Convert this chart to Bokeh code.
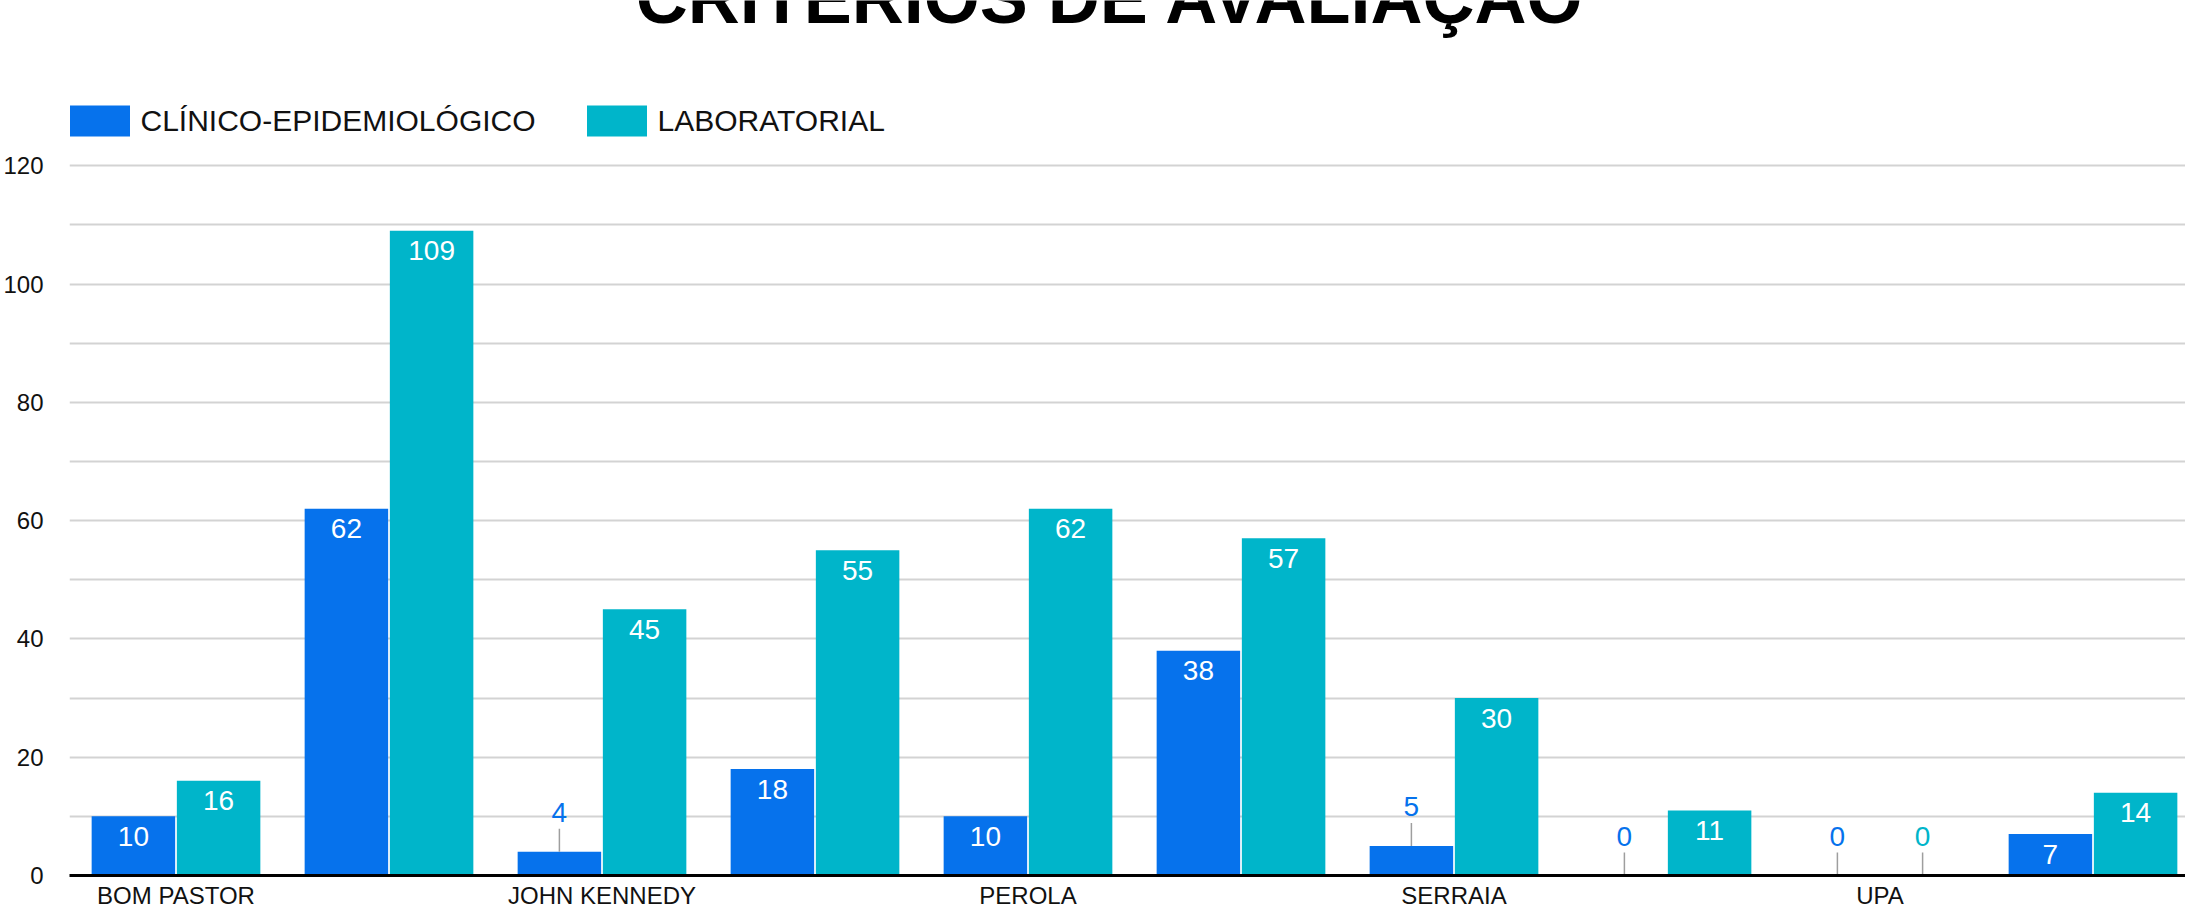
from bokeh.plotting import figure
from bokeh.models import ColumnDataSource, FixedTicker, Range1d, Legend, LegendItem, Label
from bokeh.core.properties import value
from bokeh.embed import file_html
from bokeh.resources import INLINE

# ---------------- data ----------------
title_text = "CRITÉRIOS DE AVALIAÇÃO"
series_names = ["CLÍNICO-EPIDEMIOLÓGICO", "LABORATORIAL"]
categories = ["BOM PASTOR", "", "JOHN KENNEDY", "", "PEROLA", "", "SERRAIA", "", "UPA", ""]
clinico = [10, 62, 4, 18, 10, 38, 5, 0, 0, 7]
laboratorial = [16, 109, 45, 55, 62, 57, 30, 11, 0, 14]
y_ticks = [0, 20, 40, 60, 80, 100, 120]
y_minor = [10, 30, 50, 70, 90, 110]

# ---------------- style ----------------
BLUE = "#0672EC"
TEAL = "#00B5CA"
FONT = "Liberation Sans"
W, H = 2185, 913
BORDER_LEFT, BORDER_BOTTOM = 69, 38
PX_PER_UNIT = 5.915
frame_h = H - BORDER_BOTTOM
y_end = frame_h / PX_PER_UNIT
units_per_px = 1.0 / PX_PER_UNIT
cat_px = 213.0
x_end = -0.5 + (W - BORDER_LEFT) / cat_px

p = figure(width=W, height=H, output_backend="svg", toolbar_location=None,
           x_range=Range1d(-0.5, x_end), y_range=Range1d(0, y_end),
           min_border_left=BORDER_LEFT, min_border_right=0, min_border_top=0,
           min_border_bottom=BORDER_BOTTOM)
p.outline_line_color = None
p.background_fill_color = "white"
p.border_fill_color = "white"

xs = list(range(len(categories)))
bar_w = 0.392
offsets = [-0.2, 0.2]
colors = [BLUE, TEAL]
series = [clinico, laboratorial]

renderers = []
for vals, off, col in zip(series, offsets, colors):
    src = ColumnDataSource(dict(x=[i + off for i in xs], top=vals))
    r = p.vbar(x="x", top="top", width=bar_w, source=src, fill_color=col, line_color=None)
    renderers.append(r)

# data labels
THRESH = 6
in_x, in_y, in_t = [], [], []
out_x, out_y, out_y1, out_t, out_c = [], [], [], [], []
for vals, off, col in zip(series, offsets, colors):
    for i, v in zip(xs, vals):
        if v >= THRESH:
            in_x.append(i + off); in_y.append(v); in_t.append(str(v))
        else:
            out_x.append(i + off); out_y.append(v); out_y1.append(v + 23 * units_per_px)
            out_t.append(str(v)); out_c.append(col)

in_src = ColumnDataSource(dict(x=in_x, y=in_y, t=in_t))
out_src = ColumnDataSource(dict(x=out_x, y=out_y, y1=out_y1, t=out_t, c=out_c))

p.text(x="x", y="y", text="t", source=in_src, text_align="center", text_baseline="alphabetic",
       y_offset=20, text_color="white", text_font=value(FONT), text_font_size="28px")
p.segment(x0="x", y0="y", x1="x", y1="y1", source=out_src, line_color="#9e9e9e", line_width=1.5)
p.text(x="x", y="y", text="t", source=out_src, text_align="center", text_baseline="alphabetic",
       y_offset=-39, text_color="c", text_font=value(FONT), text_font_size="28px")

# axes
for ax in (p.xaxis, p.yaxis):
    ax.major_tick_out = 0
    ax.major_tick_in = 0
    ax.minor_tick_out = 0
    ax.minor_tick_in = 0
    ax.major_tick_line_color = None
    ax.minor_tick_line_color = None
    ax.axis_label_standoff = 0
    ax.major_label_text_font = FONT
    ax.major_label_text_font_size = "24px"
    ax.major_label_text_color = "#111111"

p.xgrid.visible = False
p.xaxis.ticker = FixedTicker(ticks=[i for i, c in enumerate(categories) if c])
p.xaxis.major_label_overrides = {i: c for i, c in enumerate(categories) if c}
p.xaxis.axis_line_color = "black"
p.xaxis.axis_line_width = 3
p.xaxis.major_label_standoff = 6

p.yaxis.ticker = FixedTicker(ticks=y_ticks, minor_ticks=y_minor)
p.yaxis.axis_line_color = None
p.yaxis.major_label_standoff = 26
p.ygrid.grid_line_color = "#d3d3d3"
p.ygrid.grid_line_width = 2
p.ygrid.minor_grid_line_color = "#d3d3d3"
p.ygrid.minor_grid_line_width = 2

# legend (area glyphs are drawn inset by 10% of the glyph box)
legend = Legend(items=[LegendItem(label=series_names[0], renderers=[renderers[0]]),
                       LegendItem(label=series_names[1], renderers=[renderers[1]])],
                orientation="horizontal", location=(-7.5, frame_h - 140),
                glyph_width=75, glyph_height=39, label_standoff=4, spacing=43,
                padding=0, margin=0, border_line_color=None, background_fill_alpha=0,
                label_text_font=FONT, label_text_font_size="30px", label_height=39,
                label_text_color="#111111")
p.add_layout(legend)

# title (partially cut off at the top, as in the reference)
title = Label(x=1110 - BORDER_LEFT, y=frame_h + 3, x_units="screen", y_units="screen",
              text=title_text, text_align="center", text_baseline="alphabetic", text_font=FONT,
              text_font_size="72px", text_font_style="bold", text_color="black")
p.add_layout(title)

open("out.html", "w").write(file_html(p, INLINE))
